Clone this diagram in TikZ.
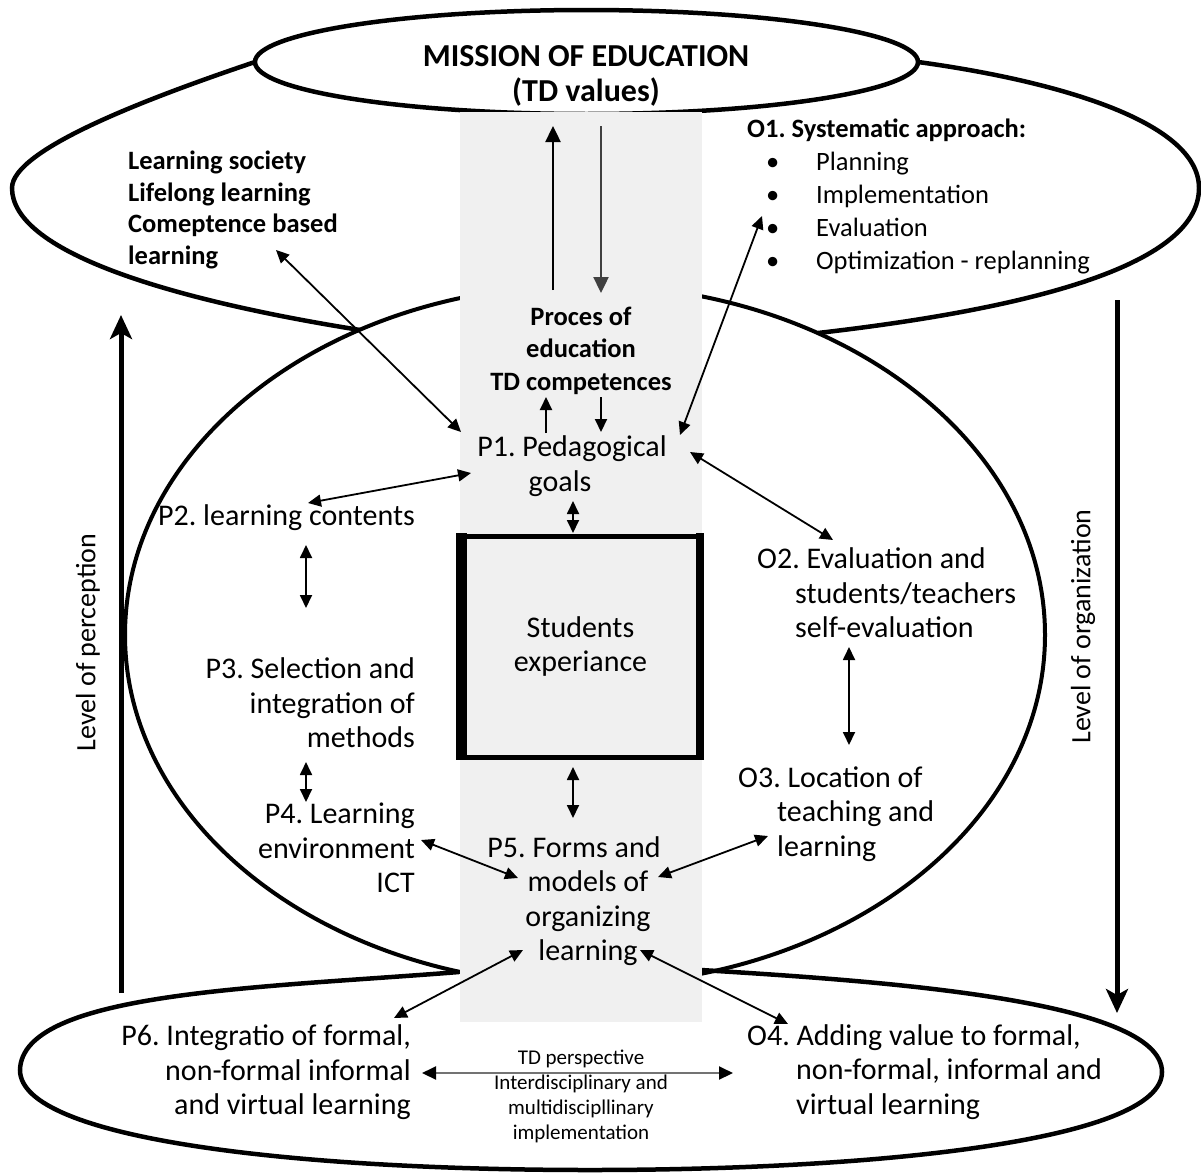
\documentclass[tikz,border=0pt]{standalone}
\usepackage{fontspec}
\setmainfont{Carlito}
\usetikzlibrary{arrows.meta}
\definecolor{colgray}{HTML}{F0F0F0}
\begin{document}
\frenchspacing
\begin{tikzpicture}[x=1pt,y=-1pt,
  lobe/.style={line width=4.5pt},
  txt/.style={inner sep=0pt, font=\fontsize{30}{34.5}\selectfont},
  txtb/.style={inner sep=0pt, font=\fontsize{26.5}{32.5}\selectfont\bfseries},
  dbl/.style={line width=1.8pt, {Triangle[length=13pt,width=12pt]}-{Triangle[length=13pt,width=12pt]}},
  sgl/.style={line width=2.4pt, -{Triangle[length=16pt,width=15pt]}},
  sglsmall/.style={line width=2pt, -{Triangle[length=13pt,width=12pt]}},
  bigarrow/.style={line width=5pt, -{Stealth[length=24pt,width=22pt,inset=6pt]}},
]
\useasboundingbox (0,0) rectangle (1201,1175);
\fill[white] (0,0) rectangle (1201,1175);

% outline shapes
\draw[lobe] (255,62) .. controls (145,99) and (12,150) .. (12,188)
  .. controls (12,250) and (160,298) .. (360,330);
\draw[lobe] (918,62) .. controls (1050,80) and (1199,120) .. (1199,188)
  .. controls (1199,268) and (1018,310) .. (818,333);
\draw[lobe] (459,972) .. controls (259,988) and (22,992) .. (20,1070)
  .. controls (20,1140) and (300,1170) .. (590,1170)
  .. controls (880,1170) and (1162,1140) .. (1162,1072)
  .. controls (1162,1000) and (881,981) .. (701,970);
\draw[line width=4pt] (585,635) ellipse [x radius=460, y radius=350];
\draw[lobe, fill=white] (586.5,62) ellipse [x radius=331.5, y radius=52];
\fill[colgray] (460,112) rectangle (702,1022);

% central box
\node[draw, line width=5pt, fill=colgray, minimum width=239pt, minimum height=221pt,
      inner sep=0pt, align=center, font=\fontsize{30}{34.5}\selectfont] (box) at (580.5,646.5) {Students\\experiance};
\fill (455.5,533) rectangle (467,759.5);
\fill (696,533) rectangle (704,759.5);

% texts
\node[inner sep=0pt, font=\fontsize{32}{35}\selectfont\bfseries, align=center] (mission) at (586,75.5) {MISSION OF EDUCATION\\(TD values)};
\node[txtb, align=left, anchor=west, font=\fontsize{26.5}{31.7}\selectfont\bfseries] (lsoc) at (128,210) {Learning society\\Lifelong learning\\Comeptence based\\learning};
\node[inner sep=0pt, align=left, anchor=west, font=\fontsize{26.5}{33}\selectfont] (o1) at (747,196)
  {{\bfseries O1. Systematic approach:}\\
   \hspace*{19pt}\makebox[50pt][l]{•}Planning\\
   \hspace*{19pt}\makebox[50pt][l]{•}Implementation\\
   \hspace*{19pt}\makebox[50pt][l]{•}Evaluation\\
   \hspace*{19pt}\makebox[50pt][l]{•}Optimization - replanning};
\node[txtb, align=center] (proces) at (581,350.5) {Proces of\\education\\TD competences};
\node[txt, align=center] (p1) at (572,466) {P1. Pedagogical\\goals\hspace*{24pt}};
\node[txt, anchor=east] (p2) at (415,518) {P2. learning contents};
\node[txt, align=right, anchor=east] (p3) at (415,703) {P3. Selection and\\integration of\\methods};
\node[txt, align=right, anchor=east] (p4) at (415,848) {P4. Learning\\environment\\ICT};
\node[txt, align=left, anchor=west] (o2) at (757,593) {O2. Evaluation and\\\hspace*{38pt}students/teachers\\\hspace*{38pt}self-evaluation};
\node[txt, align=left, anchor=west] (o3) at (738,814) {O3. Location of\\\hspace*{39pt}teaching and\\\hspace*{39pt}learning};
\node[txt, align=center] (p5) at (588,901) {P5. Forms and\hspace*{28pt}\\models of\\organizing\\learning};
\node[txt, align=right, anchor=east] (p6) at (411,1072.5) {P6. Integratio of formal,\\non-formal informal\\and virtual learning};
\node[txt, align=left, anchor=west] (o4) at (747,1072) {O4. Adding value to formal,\\\hspace*{49pt}non-formal, informal and\\\hspace*{49pt}virtual learning};
\node[inner sep=0pt, align=center, font=\fontsize{21}{25}\selectfont] (td) at (581,1096.5) {TD perspective\\Interdisciplinary and\\multidiscipllinary\\implementation};
\node[inner sep=0pt, rotate=90, font=\fontsize{28}{32}\selectfont] (perc) at (88,642.5) {Level of perception};
\node[inner sep=0pt, rotate=90, font=\fontsize{28}{32}\selectfont] (orgn) at (1083,626.5) {Level of organization};

% connector end points
\coordinate (c1a) at (553,290); \coordinate (c1b) at (553,126);
\coordinate (c2a) at (601,126); \coordinate (c2b) at (601,293);
\coordinate (c3a) at (546,433); \coordinate (c3b) at (546,397);
\coordinate (c4a) at (601,397); \coordinate (c4b) at (601,432);
\coordinate (c5a) at (276,250); \coordinate (c5b) at (461,432);
\coordinate (c6a) at (762,216); \coordinate (c6b) at (680,435);
\coordinate (c7a) at (308,503); \coordinate (c7b) at (471,473);
\coordinate (c8a) at (690,452); \coordinate (c8b) at (833,540);
\coordinate (c9a) at (573,501); \coordinate (c9b) at (573,533);
\coordinate (c10a) at (306,545); \coordinate (c10b) at (306,608);
\coordinate (c11a) at (306,762); \coordinate (c11b) at (306,802);
\coordinate (c12a) at (849,647); \coordinate (c12b) at (849,745);
\coordinate (c13a) at (573,767); \coordinate (c13b) at (573,818);
\coordinate (c14a) at (421,840); \coordinate (c14b) at (518,878);
\coordinate (c15a) at (658,877); \coordinate (c15b) at (768,836);
\coordinate (c16a) at (523,950); \coordinate (c16b) at (394,1018);
\coordinate (c17a) at (640,950); \coordinate (c17b) at (788,1024);
\coordinate (c18a) at (422,1073); \coordinate (c18b) at (733,1073);
\coordinate (bl1) at (121,993); \coordinate (bl2) at (121,315);
\coordinate (br1) at (1117,300); \coordinate (br2) at (1117,1013);

% connectors
\draw[sgl] (c1a) -- (c1b);
\draw[sgl, draw=black!75] (c2a) -- (c2b);
\draw[sglsmall] (c3a) -- (c3b);
\draw[sglsmall] (c4a) -- (c4b);
\draw[dbl] (c5a) -- (c5b);
\draw[dbl] (c6a) -- (c6b);
\draw[dbl] (c7a) -- (c7b);
\draw[dbl] (c8a) -- (c8b);
\draw[dbl] (c9a) -- (c9b);
\draw[dbl] (c10a) -- (c10b);
\draw[dbl] (c11a) -- (c11b);
\draw[dbl] (c12a) -- (c12b);
\draw[dbl] (c13a) -- (c13b);
\draw[dbl] (c14a) -- (c14b);
\draw[dbl] (c15a) -- (c15b);
\draw[dbl] (c16a) -- (c16b);
\draw[dbl] (c17a) -- (c17b);
\draw[line width=2pt, draw=black!55, {Triangle[length=14pt,width=13pt,color=black]}-{Triangle[length=14pt,width=13pt,color=black]}] (c18a) -- (c18b);
\draw[bigarrow] (bl1) -- (bl2);
\draw[bigarrow] (br1) -- (br2);
\end{tikzpicture}
\end{document}
